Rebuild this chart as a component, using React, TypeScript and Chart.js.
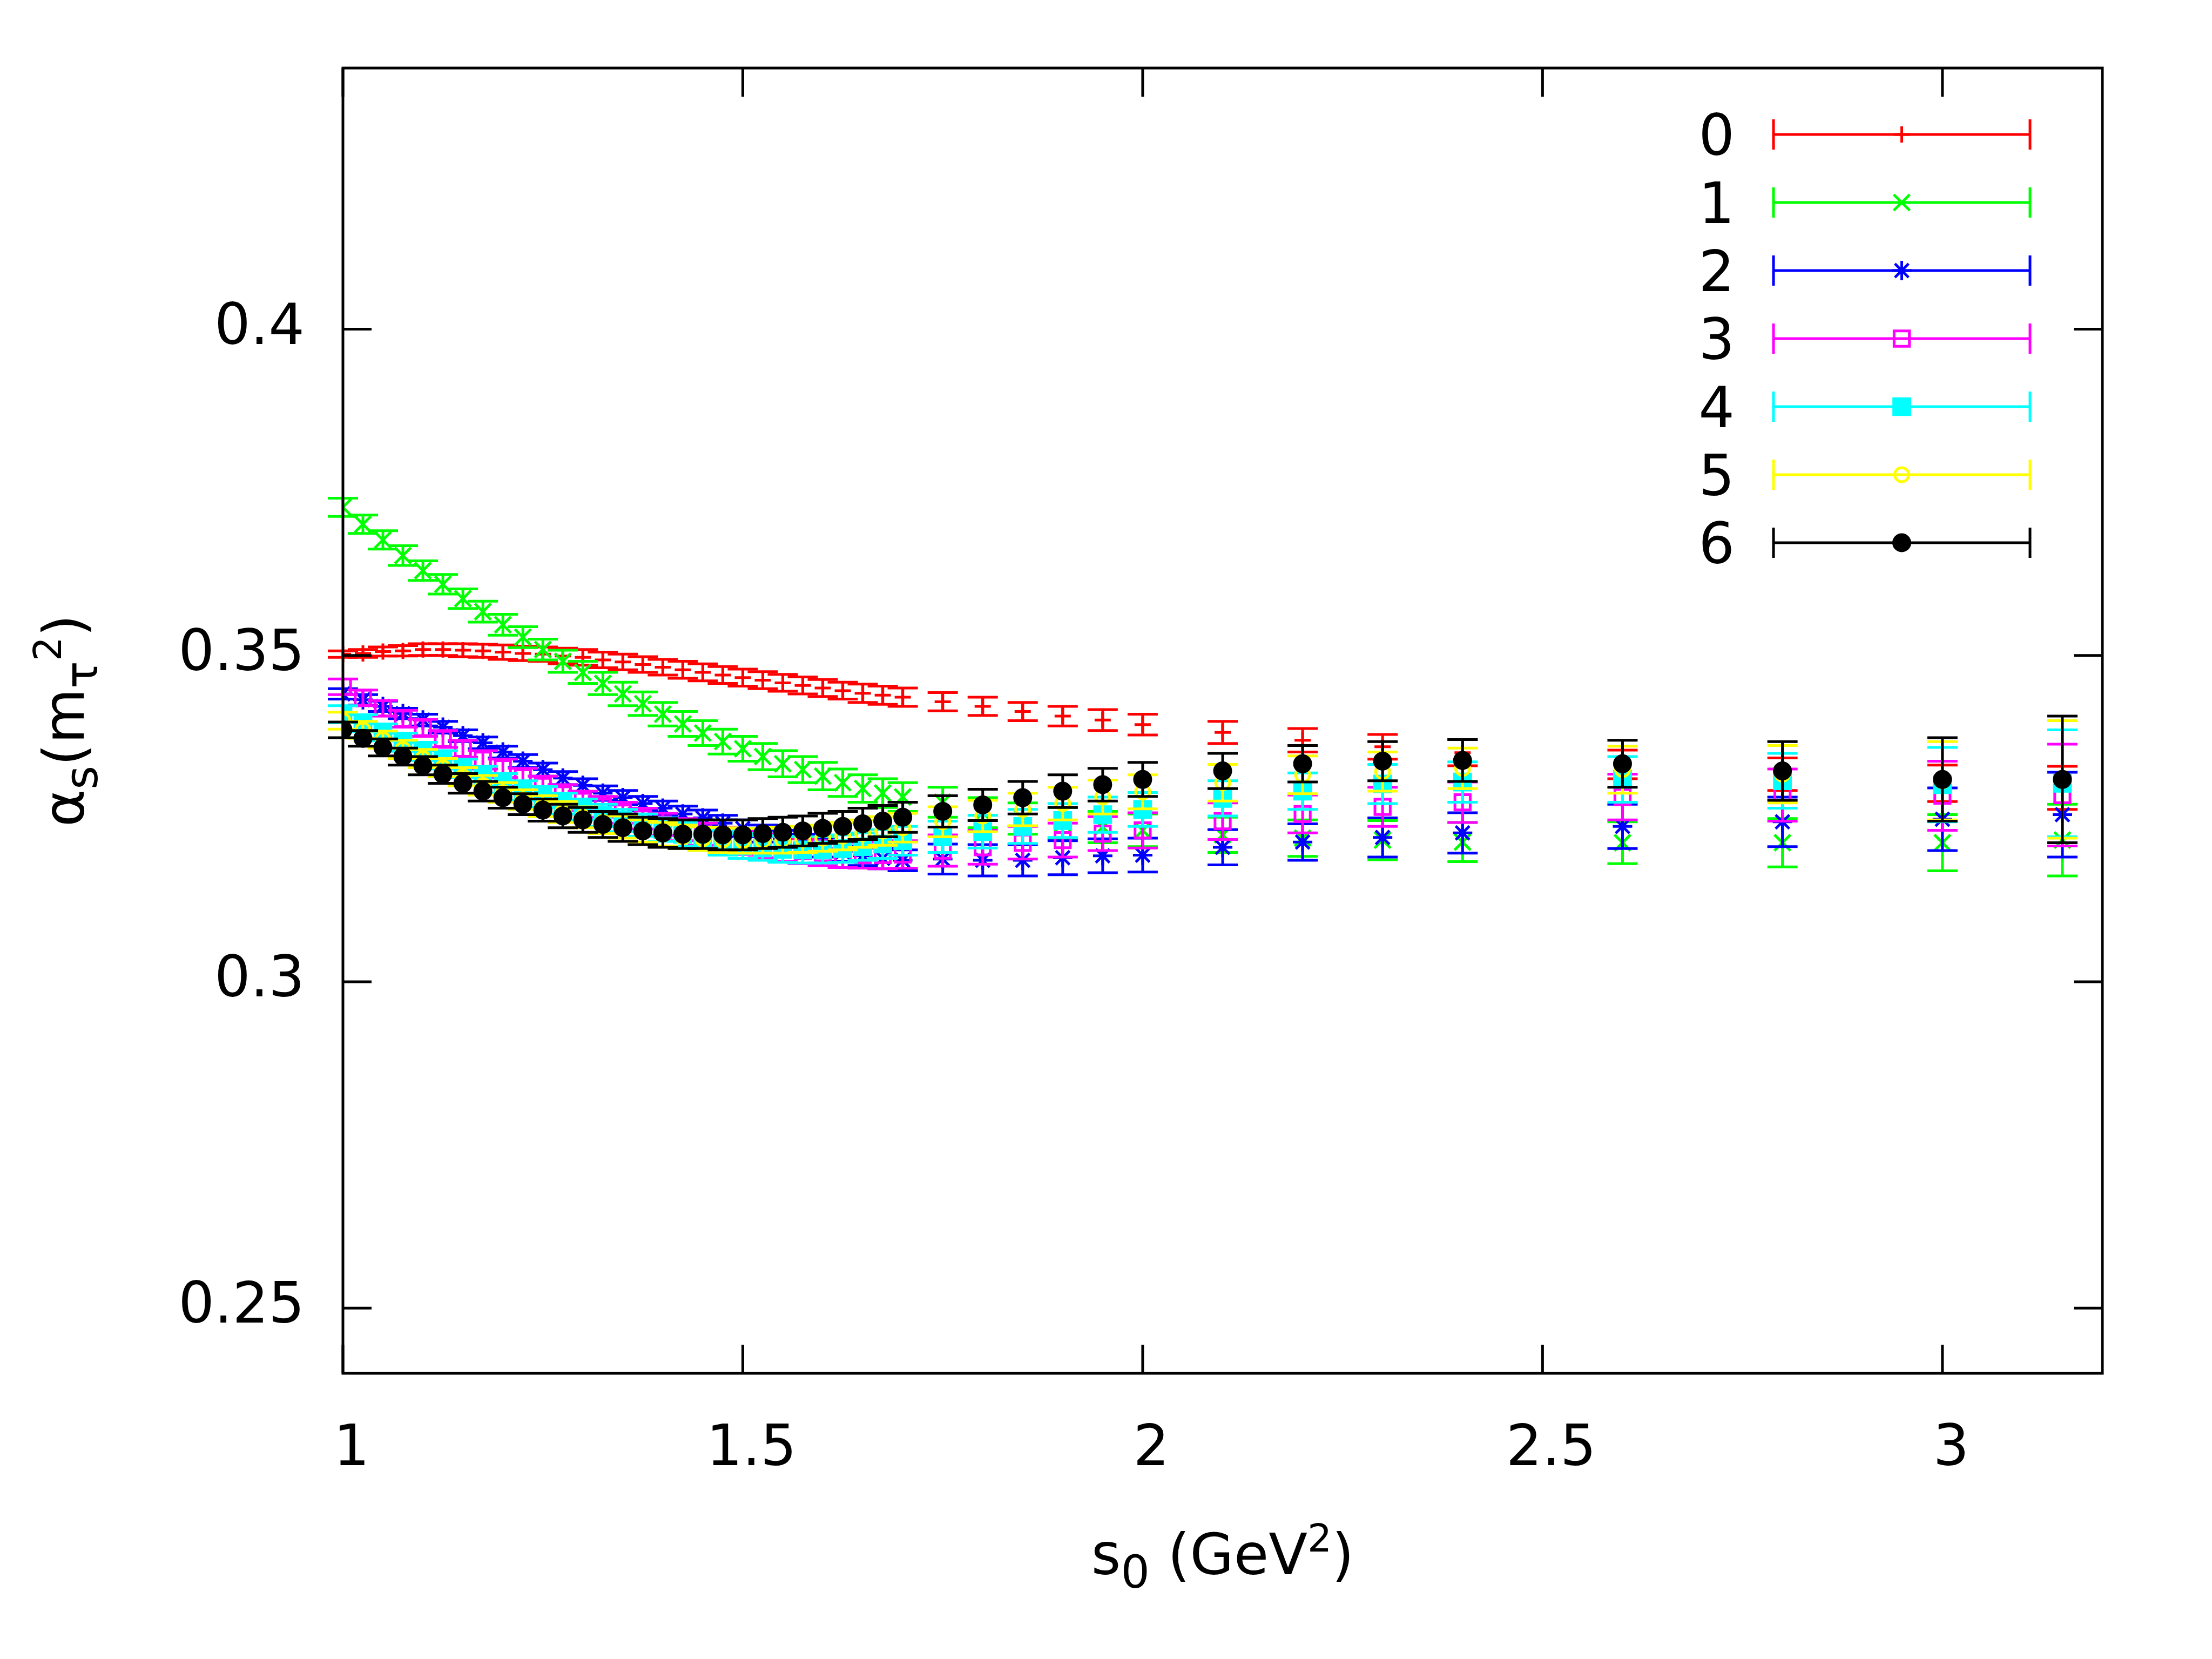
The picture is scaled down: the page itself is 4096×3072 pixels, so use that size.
import React, { useEffect, useRef } from 'react';
import { Chart, registerables } from 'chart.js';

Chart.register(...registerables);

// s0 (GeV^2): fine scan 1.0 .. 1.7, then the coarser points
const S0 = [
  1.0, 1.025, 1.05, 1.075, 1.1, 1.125, 1.15, 1.175, 1.2, 1.225, 1.25, 1.275, 1.3, 1.325, 1.35,
  1.375, 1.4, 1.425, 1.45, 1.475, 1.5, 1.525, 1.55, 1.575, 1.6, 1.625, 1.65, 1.675, 1.7,
  1.75, 1.8, 1.85, 1.9, 1.95, 2.0, 2.1, 2.2, 2.3, 2.4, 2.6, 2.8, 3.0, 3.15,
];

const SERIES_NAMES = ['0', '1', '2', '3', '4', '5', '6'];

const ALPHA_0 = [
  0.3502, 0.3503, 0.3506, 0.3507, 0.3509, 0.3509, 0.3508, 0.3507, 0.3505, 0.3503, 0.3502, 0.3499, 0.3497, 0.3493, 0.3490,
  0.3486, 0.3482, 0.3478, 0.3474, 0.3470, 0.3466, 0.3462, 0.3458, 0.3454, 0.3450, 0.3446, 0.3442, 0.3439, 0.3436,
  0.3429, 0.3422, 0.3414, 0.3407, 0.3401, 0.3394, 0.3382, 0.3370, 0.3360, 0.3351, 0.3333, 0.3318, 0.3304, 0.3297,
];
const ERR_0 = [
  0.0005, 0.0006, 0.0007, 0.0008, 0.0009, 0.0009, 0.0010, 0.0010, 0.0011, 0.0011, 0.0011, 0.0012, 0.0012, 0.0012, 0.0012,
  0.0012, 0.0012, 0.0013, 0.0013, 0.0013, 0.0013, 0.0013, 0.0013, 0.0013, 0.0013, 0.0013, 0.0014, 0.0014, 0.0014,
  0.0014, 0.0014, 0.0014, 0.0015, 0.0016, 0.0016, 0.0017, 0.0018, 0.0019, 0.0020, 0.0022, 0.0025, 0.0028, 0.0033,
];

const ALPHA_1 = [
  0.3727, 0.3701, 0.3677, 0.3653, 0.3630, 0.3609, 0.3587, 0.3567, 0.3547, 0.3528, 0.3509, 0.3491, 0.3474, 0.3457, 0.3441,
  0.3426, 0.3410, 0.3395, 0.3381, 0.3368, 0.3357, 0.3345, 0.3334, 0.3325, 0.3315, 0.3305, 0.3296, 0.3289, 0.3283,
  0.3275, 0.3259, 0.3250, 0.3243, 0.3237, 0.3232, 0.3225, 0.3220, 0.3217, 0.3214, 0.3213, 0.3213, 0.3213, 0.3217,
];
const ERR_1 = [
  0.0014, 0.0014, 0.0014, 0.0015, 0.0015, 0.0015, 0.0015, 0.0016, 0.0016, 0.0016, 0.0016, 0.0017, 0.0017, 0.0017, 0.0018,
  0.0018, 0.0018, 0.0019, 0.0019, 0.0019, 0.0019, 0.0020, 0.0020, 0.0020, 0.0021, 0.0021, 0.0021, 0.0022, 0.0022,
  0.0023, 0.0023, 0.0024, 0.0024, 0.0024, 0.0025, 0.0027, 0.0028, 0.0030, 0.0030, 0.0032, 0.0037, 0.0043, 0.0055,
];

const ALPHA_2 = [
  0.3441, 0.3432, 0.3422, 0.3411, 0.3401, 0.3390, 0.3377, 0.3366, 0.3352, 0.3338, 0.3325, 0.3312, 0.3301, 0.3289, 0.3282,
  0.3273, 0.3266, 0.3257, 0.3251, 0.3243, 0.3235, 0.3227, 0.3219, 0.3212, 0.3205, 0.3199, 0.3193, 0.3189, 0.3186,
  0.3188, 0.3186, 0.3186, 0.3190, 0.3193, 0.3194, 0.3206, 0.3214, 0.3221, 0.3228, 0.3238, 0.3245, 0.3249, 0.3256,
];
const ERR_2 = [
  0.0008, 0.0008, 0.0008, 0.0008, 0.0009, 0.0009, 0.0009, 0.0009, 0.0009, 0.0010, 0.0010, 0.0010, 0.0010, 0.0011, 0.0011,
  0.0011, 0.0011, 0.0012, 0.0012, 0.0012, 0.0013, 0.0013, 0.0013, 0.0014, 0.0014, 0.0015, 0.0015, 0.0016, 0.0016,
  0.0023, 0.0024, 0.0024, 0.0026, 0.0026, 0.0026, 0.0027, 0.0028, 0.0030, 0.0031, 0.0034, 0.0038, 0.0048, 0.0065,
];

const ALPHA_3 = [
  0.3452, 0.3435, 0.3419, 0.3403, 0.3389, 0.3372, 0.3357, 0.3340, 0.3327, 0.3313, 0.3300, 0.3287, 0.3277, 0.3268, 0.3259,
  0.3250, 0.3241, 0.3233, 0.3226, 0.3219, 0.3213, 0.3208, 0.3203, 0.3200, 0.3197, 0.3195, 0.3194, 0.3194, 0.3195,
  0.3201, 0.3206, 0.3213, 0.3217, 0.3227, 0.3232, 0.3246, 0.3257, 0.3268, 0.3275, 0.3283, 0.3286, 0.3285, 0.3286,
];
const ERR_3 = [
  0.0012, 0.0012, 0.0012, 0.0013, 0.0013, 0.0013, 0.0013, 0.0014, 0.0014, 0.0014, 0.0015, 0.0015, 0.0015, 0.0016, 0.0016,
  0.0016, 0.0017, 0.0017, 0.0017, 0.0018, 0.0018, 0.0018, 0.0019, 0.0019, 0.0019, 0.0020, 0.0020, 0.0021, 0.0021,
  0.0024, 0.0026, 0.0025, 0.0026, 0.0026, 0.0027, 0.0028, 0.0029, 0.0030, 0.0031, 0.0035, 0.0040, 0.0053, 0.0078,
];

const ALPHA_4 = [
  0.3410, 0.3396, 0.3382, 0.3367, 0.3353, 0.3340, 0.3327, 0.3315, 0.3304, 0.3293, 0.3283, 0.3273, 0.3264, 0.3255, 0.3247,
  0.3240, 0.3233, 0.3226, 0.3219, 0.3213, 0.3208, 0.3205, 0.3203, 0.3202, 0.3202, 0.3204, 0.3207, 0.3211, 0.3216,
  0.3222, 0.3230, 0.3238, 0.3247, 0.3256, 0.3264, 0.3281, 0.3292, 0.3303, 0.3306, 0.3310, 0.3308, 0.3302, 0.3304,
];
const ERR_4 = [
  0.0013, 0.0013, 0.0013, 0.0014, 0.0014, 0.0014, 0.0014, 0.0015, 0.0015, 0.0015, 0.0016, 0.0016, 0.0016, 0.0017, 0.0017,
  0.0017, 0.0018, 0.0018, 0.0018, 0.0019, 0.0019, 0.0019, 0.0020, 0.0020, 0.0020, 0.0021, 0.0021, 0.0022, 0.0022,
  0.0024, 0.0025, 0.0026, 0.0026, 0.0027, 0.0026, 0.0027, 0.0028, 0.0030, 0.0031, 0.0035, 0.0042, 0.0057, 0.0082,
];

const ALPHA_5 = [
  0.3400, 0.3386, 0.3371, 0.3356, 0.3342, 0.3328, 0.3314, 0.3301, 0.3290, 0.3279, 0.3269, 0.3260, 0.3252, 0.3244, 0.3237,
  0.3231, 0.3226, 0.3222, 0.3219, 0.3217, 0.3216, 0.3216, 0.3217, 0.3218, 0.3220, 0.3223, 0.3227, 0.3231, 0.3236,
  0.3245, 0.3254, 0.3264, 0.3273, 0.3283, 0.3291, 0.3305, 0.3317, 0.3322, 0.3327, 0.3325, 0.3318, 0.3308, 0.3310,
];
const ERR_5 = [
  0.0013, 0.0013, 0.0013, 0.0014, 0.0014, 0.0014, 0.0014, 0.0015, 0.0015, 0.0015, 0.0016, 0.0016, 0.0016, 0.0017, 0.0017,
  0.0017, 0.0018, 0.0018, 0.0018, 0.0019, 0.0019, 0.0019, 0.0020, 0.0020, 0.0020, 0.0021, 0.0021, 0.0022, 0.0022,
  0.0023, 0.0024, 0.0025, 0.0025, 0.0026, 0.0026, 0.0028, 0.0029, 0.0030, 0.0031, 0.0036, 0.0044, 0.0060, 0.0090,
];

const ALPHA_6 = [
  0.3386, 0.3373, 0.3359, 0.3345, 0.3331, 0.3318, 0.3304, 0.3292, 0.3282, 0.3272, 0.3263, 0.3254, 0.3248, 0.3241, 0.3236,
  0.3231, 0.3228, 0.3226, 0.3226, 0.3225, 0.3225, 0.3227, 0.3229, 0.3231, 0.3235, 0.3238, 0.3242, 0.3246, 0.3252,
  0.3261, 0.3271, 0.3282, 0.3292, 0.3302, 0.3310, 0.3323, 0.3334, 0.3338, 0.3339, 0.3334, 0.3323, 0.3310, 0.3310,
];
const ERR_6 = [
  0.0012, 0.0012, 0.0013, 0.0013, 0.0014, 0.0014, 0.0015, 0.0015, 0.0016, 0.0016, 0.0017, 0.0018, 0.0019, 0.0020, 0.0021,
  0.0021, 0.0022, 0.0022, 0.0022, 0.0023, 0.0023, 0.0023, 0.0023, 0.0023, 0.0023, 0.0023, 0.0024, 0.0024, 0.0023,
  0.0024, 0.0024, 0.0025, 0.0025, 0.0025, 0.0026, 0.0027, 0.0028, 0.0030, 0.0032, 0.0036, 0.0045, 0.0064, 0.0097,
];

const SERIES = [ALPHA_0, ALPHA_1, ALPHA_2, ALPHA_3, ALPHA_4, ALPHA_5, ALPHA_6];
const ERRORS = [ERR_0, ERR_1, ERR_2, ERR_3, ERR_4, ERR_5, ERR_6];

const X_TICKS = [1, 1.5, 2, 2.5, 3];
const Y_TICKS = [0.25, 0.3, 0.35, 0.4];

const FONT = '"DejaVu Sans", "Liberation Sans", sans-serif';
const FS = 105;
const LW = 5;
const CAP = 28;
const TICK_LEN = 53;

type Marker = { color: string; style: 'cross' | 'crossRot' | 'star' | 'rect' | 'circle'; radius: number; filled: boolean };

// gnuplot point types 1..7
const MARKERS: Marker[] = [
  { color: '#ff0000', style: 'cross', radius: 15, filled: false },
  { color: '#00ff00', style: 'crossRot', radius: 21, filled: false },
  { color: '#0000ff', style: 'star', radius: 18, filled: false },
  { color: '#ff00ff', style: 'rect', radius: 20, filled: false },
  { color: '#00ffff', style: 'rect', radius: 21, filled: true },
  { color: '#ffff00', style: 'circle', radius: 13, filled: false },
  { color: '#000000', style: 'circle', radius: 15, filled: true },
];

function drawMarker(ctx: CanvasRenderingContext2D, m: Marker, x: number, y: number) {
  const r = m.radius;
  ctx.save();
  ctx.strokeStyle = m.color;
  ctx.fillStyle = m.color;
  ctx.lineWidth = LW;
  ctx.beginPath();
  if (m.style === 'cross' || m.style === 'star') {
    ctx.moveTo(x - r, y); ctx.lineTo(x + r, y);
    ctx.moveTo(x, y - r); ctx.lineTo(x, y + r);
  }
  if (m.style === 'crossRot' || m.style === 'star') {
    const d = r * Math.SQRT1_2;
    ctx.moveTo(x - d, y - d); ctx.lineTo(x + d, y + d);
    ctx.moveTo(x - d, y + d); ctx.lineTo(x + d, y - d);
  }
  if (m.style === 'rect') {
    const s = r * Math.SQRT1_2;
    ctx.rect(x - s, y - s, 2 * s, 2 * s);
  }
  if (m.style === 'circle') ctx.arc(x, y, r, 0, Math.PI * 2);
  if (m.filled) ctx.fill();
  ctx.stroke();
  ctx.restore();
}

type Piece = { t: string; k: 'n' | 'sub' | 'sup' };

function pieceFont(k: Piece['k']) {
  if (k === 'sub') return `${Math.round(FS * 0.8)}px ${FONT}`;
  if (k === 'sup') return `${Math.round(FS * 0.68)}px ${FONT}`;
  return `${FS}px ${FONT}`;
}

// draws enhanced text centred on x=0 along the current baseline
function drawRich(ctx: CanvasRenderingContext2D, pieces: Piece[]) {
  let total = 0;
  const widths = pieces.map((p) => {
    ctx.font = pieceFont(p.k);
    const w = ctx.measureText(p.t).width;
    total += w;
    return w;
  });
  let x = -total / 2;
  pieces.forEach((p, i) => {
    ctx.font = pieceFont(p.k);
    const dy = p.k === 'sub' ? 25 : p.k === 'sup' ? -42 : 0;
    ctx.fillText(p.t, x, dy);
    x += widths[i];
  });
}

const errorBarPlugin = {
  id: 'errorBars',
  beforeDatasetDraw(chart: any, args: any) {
    const ds = chart.data.datasets[args.index];
    const errs: number[] = ds.errors;
    if (!errs) return;
    const { ctx } = chart;
    const xs = chart.scales.x;
    const ys = chart.scales.y;
    ctx.save();
    ctx.strokeStyle = ds.pointBorderColor;
    ctx.lineWidth = LW;
    ds.data.forEach((p: { x: number; y: number }, i: number) => {
      const px = xs.getPixelForValue(p.x);
      const top = ys.getPixelForValue(p.y + errs[i]);
      const bot = ys.getPixelForValue(p.y - errs[i]);
      ctx.beginPath();
      ctx.moveTo(px, top); ctx.lineTo(px, bot);
      ctx.moveTo(px - CAP, top); ctx.lineTo(px + CAP, top);
      ctx.moveTo(px - CAP, bot); ctx.lineTo(px + CAP, bot);
      ctx.stroke();
    });
    ctx.restore();
  },
};

const framePlugin = {
  id: 'frameLegendTitles',
  afterDraw(chart: any) {
    const { ctx, chartArea: a } = chart;
    const xs = chart.scales.x;
    const ys = chart.scales.y;
    ctx.save();
    ctx.strokeStyle = '#000';
    ctx.lineWidth = LW;
    ctx.strokeRect(a.left, a.top, a.right - a.left, a.bottom - a.top);
    ctx.beginPath();
    X_TICKS.forEach((v) => {
      const px = xs.getPixelForValue(v);
      ctx.moveTo(px, a.bottom); ctx.lineTo(px, a.bottom - TICK_LEN);
      ctx.moveTo(px, a.top); ctx.lineTo(px, a.top + TICK_LEN);
    });
    Y_TICKS.forEach((v) => {
      const py = ys.getPixelForValue(v);
      ctx.moveTo(a.left, py); ctx.lineTo(a.left + TICK_LEN, py);
      ctx.moveTo(a.right, py); ctx.lineTo(a.right - TICK_LEN, py);
    });
    ctx.stroke();

    // key, top right
    const keyLabelX = 3212;
    const lineX0 = 3284;
    const lineX1 = 3759;
    SERIES_NAMES.forEach((name, i) => {
      const y = 249 + i * 126;
      const m = MARKERS[i];
      ctx.fillStyle = '#000';
      ctx.font = `${FS}px ${FONT}`;
      ctx.textAlign = 'right';
      ctx.textBaseline = 'alphabetic';
      ctx.fillText(name, keyLabelX, y + 38);
      ctx.strokeStyle = m.color;
      ctx.lineWidth = LW;
      ctx.beginPath();
      ctx.moveTo(lineX0, y); ctx.lineTo(lineX1, y);
      ctx.moveTo(lineX0, y - CAP); ctx.lineTo(lineX0, y + CAP);
      ctx.moveTo(lineX1, y - CAP); ctx.lineTo(lineX1, y + CAP);
      ctx.stroke();
      drawMarker(ctx, m, (lineX0 + lineX1) / 2, y);
    });

    // axis titles
    ctx.fillStyle = '#000';
    ctx.textAlign = 'left';
    ctx.textBaseline = 'alphabetic';
    ctx.save();
    ctx.translate((a.left + a.right) / 2, 2915);
    drawRich(ctx, [
      { t: 's', k: 'n' }, { t: '0', k: 'sub' }, { t: ' (GeV', k: 'n' }, { t: '2', k: 'sup' }, { t: ')', k: 'n' },
    ]);
    ctx.restore();
    ctx.save();
    ctx.translate(155, (a.top + a.bottom) / 2);
    ctx.rotate(-Math.PI / 2);
    drawRich(ctx, [
      { t: 'α', k: 'n' }, { t: 's', k: 'sub' }, { t: '(m', k: 'n' }, { t: 'τ', k: 'sub' }, { t: '2', k: 'sup' }, { t: ')', k: 'n' },
    ]);
    ctx.restore();
    ctx.restore();
  },
};

export default function App() {
  const canvasRef = useRef<HTMLCanvasElement>(null);

  useEffect(() => {
    if (!canvasRef.current) return;
    const chart = new Chart(canvasRef.current, {
      type: 'scatter',
      data: {
        datasets: SERIES.map((vals, i) => ({
          label: SERIES_NAMES[i],
          data: S0.map((x, j) => ({ x, y: vals[j] })),
          errors: ERRORS[i],
          order: SERIES.length - i,
          showLine: false,
          pointStyle: MARKERS[i].style,
          pointRadius: MARKERS[i].radius,
          pointHoverRadius: MARKERS[i].radius,
          pointBorderWidth: LW,
          pointHoverBorderWidth: LW,
          pointBorderColor: MARKERS[i].color,
          pointBackgroundColor: MARKERS[i].filled ? MARKERS[i].color : 'rgba(0,0,0,0)',
          borderColor: MARKERS[i].color,
          backgroundColor: MARKERS[i].color,
        })) as any,
      },
      options: {
        responsive: false,
        animation: false,
        devicePixelRatio: 1,
        events: [],
        layout: { padding: { top: 125, right: 203, left: 0, bottom: 0 } },
        plugins: {
          legend: { display: false },
          tooltip: { enabled: false },
        },
        scales: {
          x: {
            type: 'linear',
            position: 'bottom',
            min: 1,
            max: 3.2,
            afterFit: (s: any) => { s.height = 529; },
            afterBuildTicks: (s: any) => { s.ticks = X_TICKS.map((value) => ({ value })); },
            grid: { display: false },
            border: { display: false },
            ticks: {
              autoSkip: false,
              maxRotation: 0,
              padding: 72,
              labelOffset: 16,
              color: '#000',
              font: { family: FONT, size: FS },
              callback: (v: any) => String(v),
            },
          },
          y: {
            type: 'linear',
            min: 0.24,
            max: 0.44,
            afterFit: (s: any) => { s.width = 635; },
            afterBuildTicks: (s: any) => { s.ticks = Y_TICKS.map((value) => ({ value })); },
            grid: { display: false },
            border: { display: false },
            ticks: {
              autoSkip: false,
              padding: 63,
              color: '#000',
              font: { family: FONT, size: FS },
              callback: (v: any) => String(v),
            },
          },
        },
      },
      plugins: [errorBarPlugin, framePlugin],
    });
    return () => chart.destroy();
  }, []);

  return (
    <div style={{ position: 'absolute', left: 0, top: 0, width: 4096, height: 3072, background: '#fff' }}>
      <canvas ref={canvasRef} width={4096} height={3072} style={{ display: 'block', width: 4096, height: 3072 }} />
    </div>
  );
}
